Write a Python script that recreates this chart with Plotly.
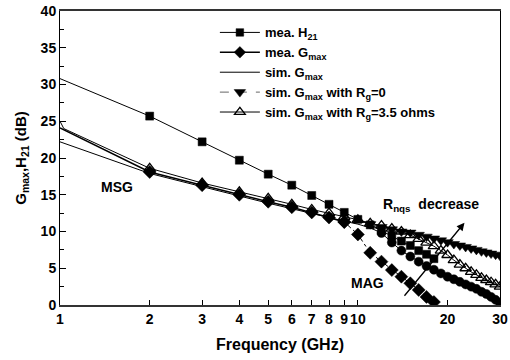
import numpy as np
import plotly.graph_objects as go

# ---- data ----
freq_h21 = [1, 2, 3, 4, 5, 6, 7, 8, 9, 10, 11, 12, 13, 14, 15, 16, 17, 18]
h21_mea = [30.8, 25.7, 22.2, 19.7, 17.8, 16.3, 14.9, 13.7, 12.6, 11.65, 10.9, 10.1, 9.4, 8.7, 8.1, 7.4, 6.9, 6.3]

freq_msg = [1, 2, 3, 4, 5, 6, 7, 8, 9]
gmax_msg = [24.1, 18.1, 16.3, 15.0, 14.05, 13.3, 12.6, 11.9, 11.3]
freq_mag = [9, 10, 11, 12, 13, 14, 15, 16, 17, 18]
gmax_mag = [11.3, 9.6, 7.1, 5.9, 4.75, 3.85, 2.95, 2.05, 1.1, 0.4]

freq_sim = [1, 2, 3, 4, 5, 6, 7, 8, 9, 10, 11, 12, 13, 14, 15, 16, 17, 18, 19, 20,
            21, 22, 23, 24, 25, 26, 27, 28, 29, 30]
gmax_sim = [22.2, 17.9, 16.1, 14.8, 13.85, 13.1, 12.4, 11.9, 11.4, 11.0, 10.5, 9.8,
            8.5, 7.4, 6.6, 5.9, 5.3, 4.8, 4.3, 3.85, 3.5, 3.15, 2.8, 2.5, 2.2, 1.8,
            1.5, 1.1, 0.7, 0.3]

freq_rg0 = [11, 12, 13, 14, 15, 16, 17, 18, 19, 20, 21, 22, 23, 24, 25, 26, 27, 28, 29, 30]
gmax_rg0 = [11.0, 10.6, 10.3, 10.0, 9.85, 9.55, 9.3, 9.05, 8.8, 8.55, 8.3, 8.1, 7.9,
            7.7, 7.5, 7.3, 7.15, 7.0, 6.85, 6.7]

freq_rg35 = [1, 1.03, 2, 3, 4, 5, 6, 7, 8, 9, 10, 11, 12, 13, 14, 15, 16, 17, 18, 19,
             20, 21, 22, 23, 24, 25, 26, 27, 28, 29, 30]
gmax_rg35 = [25.0, 24.0, 18.6, 16.6, 15.4, 14.5, 13.7, 13.0, 12.5, 12.0, 11.6, 11.1,
             10.8, 10.4, 10.0, 9.5, 9.0, 8.5, 8.0, 7.4, 6.8, 6.1, 5.5, 5.0, 4.5, 4.1,
             3.7, 3.4, 3.1, 2.8, 2.5]

x_ticks = [1, 2, 3, 4, 5, 6, 7, 8, 9, 10, 20, 30]
x_ticktext = ["1", "2", "3", "4", "5", "6", "7", "8", "9", "10", "20", "30"]
y_ticks = [0, 5, 10, 15, 20, 25, 30, 35, 40]

FONT = "Liberation Sans, Arial, sans-serif"
BLK = "#000000"

fig = go.Figure()

# mea. H21
sz = [0] + [8] * (len(freq_h21) - 1)
fig.add_trace(go.Scatter(x=freq_h21, y=h21_mea, mode="lines+markers",
                         name="mea. H<sub>21</sub>", legendrank=1,
                         line=dict(color=BLK, width=1),
                         marker=dict(symbol="square", size=sz, color=BLK, opacity=1,
                                     line=dict(width=0.5, color=BLK))))
# mea. Gmax (MSG part)
sz = [0] + [10] * (len(freq_msg) - 1)
fig.add_trace(go.Scatter(x=freq_msg, y=gmax_msg, mode="lines+markers",
                         name="mea. G<sub>max</sub>", legendrank=2,
                         line=dict(color=BLK, width=1.5),
                         marker=dict(symbol="diamond", size=sz, color=BLK, opacity=1,
                                     line=dict(width=0.5, color=BLK))))
# mea. Gmax (MAG part)
fig.add_trace(go.Scatter(x=freq_mag, y=gmax_mag, mode="lines+markers",
                         showlegend=False,
                         line=dict(color=BLK, width=1, dash="dashdot"),
                         marker=dict(symbol="diamond", size=10, color=BLK,
                                     line=dict(width=0.5, color=BLK))))
# sim. Gmax
fig.add_trace(go.Scatter(x=freq_sim, y=gmax_sim, mode="lines",
                         name="sim. G<sub>max</sub>", legendrank=3,
                         line=dict(color=BLK, width=1)))
# circles on simulated curve (high frequency)
fig.add_trace(go.Scatter(x=freq_sim[11:], y=gmax_sim[11:], mode="markers",
                         showlegend=False,
                         marker=dict(symbol="circle", size=9, color=BLK,
                                     line=dict(width=0.5, color=BLK))))
# Rg = 3.5 ohms
sz = [0, 0] + [10] * (len(freq_rg35) - 2)
fig.add_trace(go.Scatter(x=freq_rg35, y=gmax_rg35, mode="lines+markers",
                         name="sim. G<sub>max</sub> with R<sub>g</sub>=3.5 ohms", legendrank=5,
                         line=dict(color=BLK, width=1),
                         marker=dict(symbol="triangle-up-open", size=sz, color=BLK, opacity=1,
                                     line=dict(width=1.3, color=BLK))))
# Rg = 0
fig.add_trace(go.Scatter(x=freq_rg0, y=gmax_rg0, mode="lines+markers",
                         name="sim. G<sub>max</sub> with R<sub>g</sub>=0", legendrank=4,
                         line=dict(color="#666666", width=1, dash="dash"),
                         marker=dict(symbol="triangle-down", size=10, color=BLK,
                                     line=dict(width=0.5, color=BLK))))

lg = np.log10
fig.add_annotation(x=lg(1.55), y=16.1, text="MSG", showarrow=False,
                   font=dict(size=14, family=FONT, color=BLK, weight="bold"))
fig.add_annotation(x=lg(10.75), y=3.0, text="MAG", showarrow=False,
                   font=dict(size=14, family=FONT, color=BLK, weight="bold"))
fig.add_annotation(x=lg(17.6), y=13.6, text="R<sub>nqs</sub>  decrease", showarrow=False,
                   font=dict(size=14, family=FONT, color=BLK, weight="bold"))
fig.add_annotation(x=lg(22.8), y=11.2, ax=lg(14.2), ay=1.05, axref="x", ayref="y",
                   xref="x", yref="y", text="", showarrow=True,
                   arrowhead=2, arrowsize=1.2, arrowwidth=1.3, arrowcolor=BLK)

fig.update_layout(
    width=510, height=360,
    margin=dict(l=60, r=10, t=11, b=55, autoexpand=False),
    paper_bgcolor="white", plot_bgcolor="white",
    font=dict(family=FONT, size=13, color=BLK, weight="bold"),
    showlegend=True,
    legend=dict(x=0.352, y=0.978, xanchor="left", yanchor="top",
                bgcolor="rgba(0,0,0,0)", font=dict(size=13, weight="bold"),
                itemwidth=40, tracegroupgap=0),
    xaxis=dict(type="log", range=[0, np.log10(30)],
               tickvals=x_ticks, ticktext=x_ticktext, tickangle=0,
               ticks="inside", ticklen=5, tickwidth=1, tickcolor=BLK,
               showline=True, linecolor="#333333", linewidth=2, mirror=True,
               showgrid=False, zeroline=False, automargin=False,
               tickfont=dict(size=14, weight="bold"),
               title=dict(text="Frequency (GHz)", font=dict(size=16, weight="bold"), standoff=13)),
    yaxis=dict(range=[0, 40], tickvals=y_ticks,
               ticks="inside", ticklen=6, tickwidth=1, tickcolor=BLK,
               minor=dict(ticks="inside", ticklen=4, dtick=2.5, tickcolor=BLK, showgrid=False),
               showline=True, linecolor=BLK, linewidth=1, mirror=True,
               showgrid=False, zeroline=False, automargin=False,
               tickfont=dict(size=14, weight="bold"),
               title=dict(text="G<sub>max</sub>,H<sub>21</sub> (dB)", font=dict(size=15, weight="bold"), standoff=10)),
)

# remove the page's default body margin so the 510x360 figure fills the window exactly
fig.write_html("out.html", config={"displayModeBar": False},
               post_script="document.body.style.margin='0px';document.body.style.overflow='hidden';")
